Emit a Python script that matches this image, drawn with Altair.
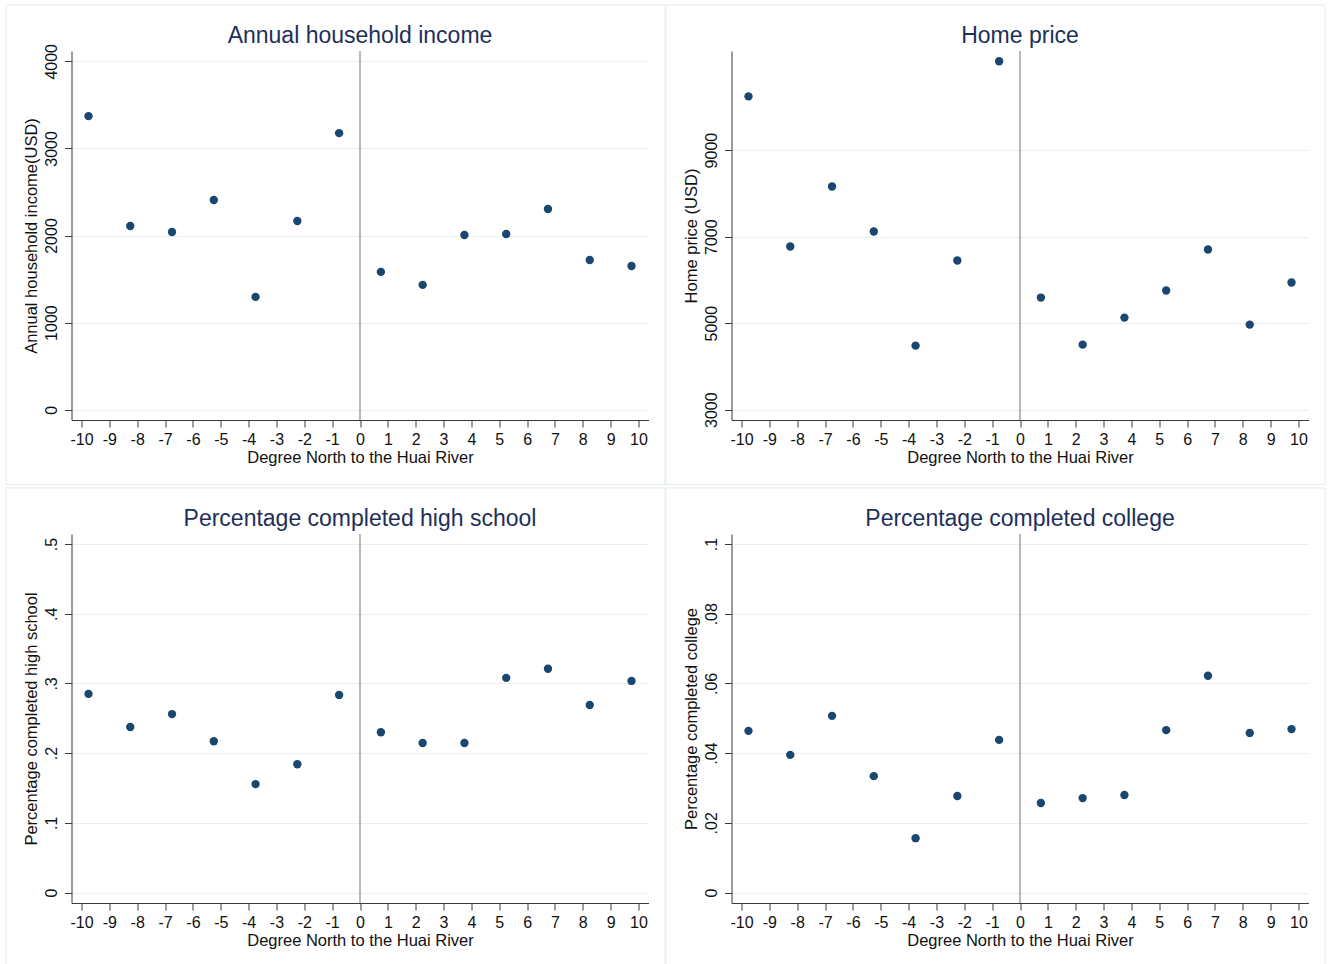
import altair as alt
import pandas as pd

# Bin centres (degrees north of the Huai River)
degrees = [-9.75, -8.25, -6.75, -5.25, -3.75, -2.25, -0.75,
           0.75, 2.25, 3.75, 5.25, 6.75, 8.25, 9.75]

income = [3370, 2109, 2040, 2407, 1295, 2166, 3175,
          1582, 1433, 2006, 2017, 2304, 1719, 1650]
home_price = [10243, 6772, 8160, 7119, 4481, 6448, 11053,
              5592, 4504, 5129, 5754, 6702, 4967, 5939]
high_school = [0.285, 0.2375, 0.256, 0.217, 0.1556, 0.184, 0.2835,
               0.230, 0.2145, 0.2145, 0.308, 0.321, 0.269, 0.3036]
college = [0.0464, 0.0395, 0.0507, 0.0334, 0.0156, 0.0277, 0.0438,
           0.0257, 0.0271, 0.0280, 0.0466, 0.0622, 0.0458, 0.0469]

x_ticks = list(range(-10, 11))
cutoff = [0]

panels = [
    ("Annual household income", "Annual household income(USD)", income,
     [0, 1000, 2000, 3000, 4000], [-118, 4118]),
    ("Home price", "Home price (USD)", home_price,
     [3000, 5000, 7000, 9000], [2762, 11291]),
    ("Percentage completed high school", "Percentage completed high school", high_school,
     [0, 0.1, 0.2, 0.3, 0.4, 0.5], [-0.015, 0.5144]),
    ("Percentage completed college", "Percentage completed college", college,
     [0, 0.02, 0.04, 0.06, 0.08, 0.1], [-0.003, 0.10288]),
]

W, H = 577, 369
FONT = "Liberation Sans"
NAVY = "#1a476f"
TITLE_NAVY = "#1e2f5a"
AXIS_COL = "#3a3a3a"

y_label_expr = "datum.value == 0 ? '0' : replace(toString(datum.value), '0.', '.')"
x_label_expr = "toString(datum.value)"


def make_panel(title, ytitle, values, yticks, ydomain):
    df = pd.DataFrame({"deg": degrees, "val": values})
    xscale = alt.Scale(domain=[-10.36, 10.36], nice=False, zero=False)
    yscale = alt.Scale(domain=ydomain, nice=False, zero=False)
    xaxis = alt.Axis(values=x_ticks, title="Degree North to the Huai River",
                     grid=False, tickSize=7, labelPadding=4, titlePadding=2,
                     labelOverlap=False, labelFlush=False, labelExpr=x_label_expr)
    one = alt.Data(values=[{"k": 1}])

    points = alt.Chart(df).mark_circle(size=70, color=NAVY, opacity=1).encode(
        x=alt.X("deg:Q", scale=xscale, axis=xaxis),
        y=alt.Y("val:Q", scale=yscale,
                axis=alt.Axis(values=yticks, title=ytitle, grid=True,
                              gridColor="#e8f0f2", tickSize=7, labelAngle=270,
                              labelAlign="center", labelBaseline="bottom",
                              labelPadding=5, titlePadding=4,
                              labelOverlap=False, labelFlush=False,
                              labelExpr=y_label_expr)),
    )

    zero_rule = alt.Chart(pd.DataFrame({"deg": cutoff})).mark_rule(
        color="#8a8a8a", strokeWidth=1.2
    ).encode(x=alt.X("deg:Q", scale=xscale, axis=xaxis))

    border = alt.Chart(one).mark_rect(
        fill=None, stroke="#e3ebef", strokeWidth=1
    ).encode(
        x=alt.value(-65.5), x2=alt.value(593.5),
        y=alt.value(-46), y2=alt.value(433.5)
    )

    heading = alt.Chart(one).mark_text(
        text=title, font=FONT, fontSize=23, color=TITLE_NAVY,
        align="center", baseline="alphabetic"
    ).encode(x=alt.value(W / 2), y=alt.value(-8))

    return alt.layer(points, zero_rule, border, heading).properties(
        width=W, height=H,
    )


charts = [make_panel(*p) for p in panels]

chart = alt.concat(
    *charts, columns=2, spacing={"row": 114, "column": 83}, bounds="flush"
).properties(
    padding={"left": 5.5, "top": 4, "right": 0, "bottom": 0},
    background="white",
).configure_view(
    stroke=None
).configure_axis(
    labelFont=FONT, titleFont=FONT, labelFontSize=16, titleFontSize=16.5,
    titleFontWeight="normal", labelColor="#111111", titleColor="#111111",
    domainColor=AXIS_COL, tickColor=AXIS_COL, domainWidth=1, tickWidth=1,
)

chart.save("out.html", embed_options={"renderer": "svg", "actions": False})
